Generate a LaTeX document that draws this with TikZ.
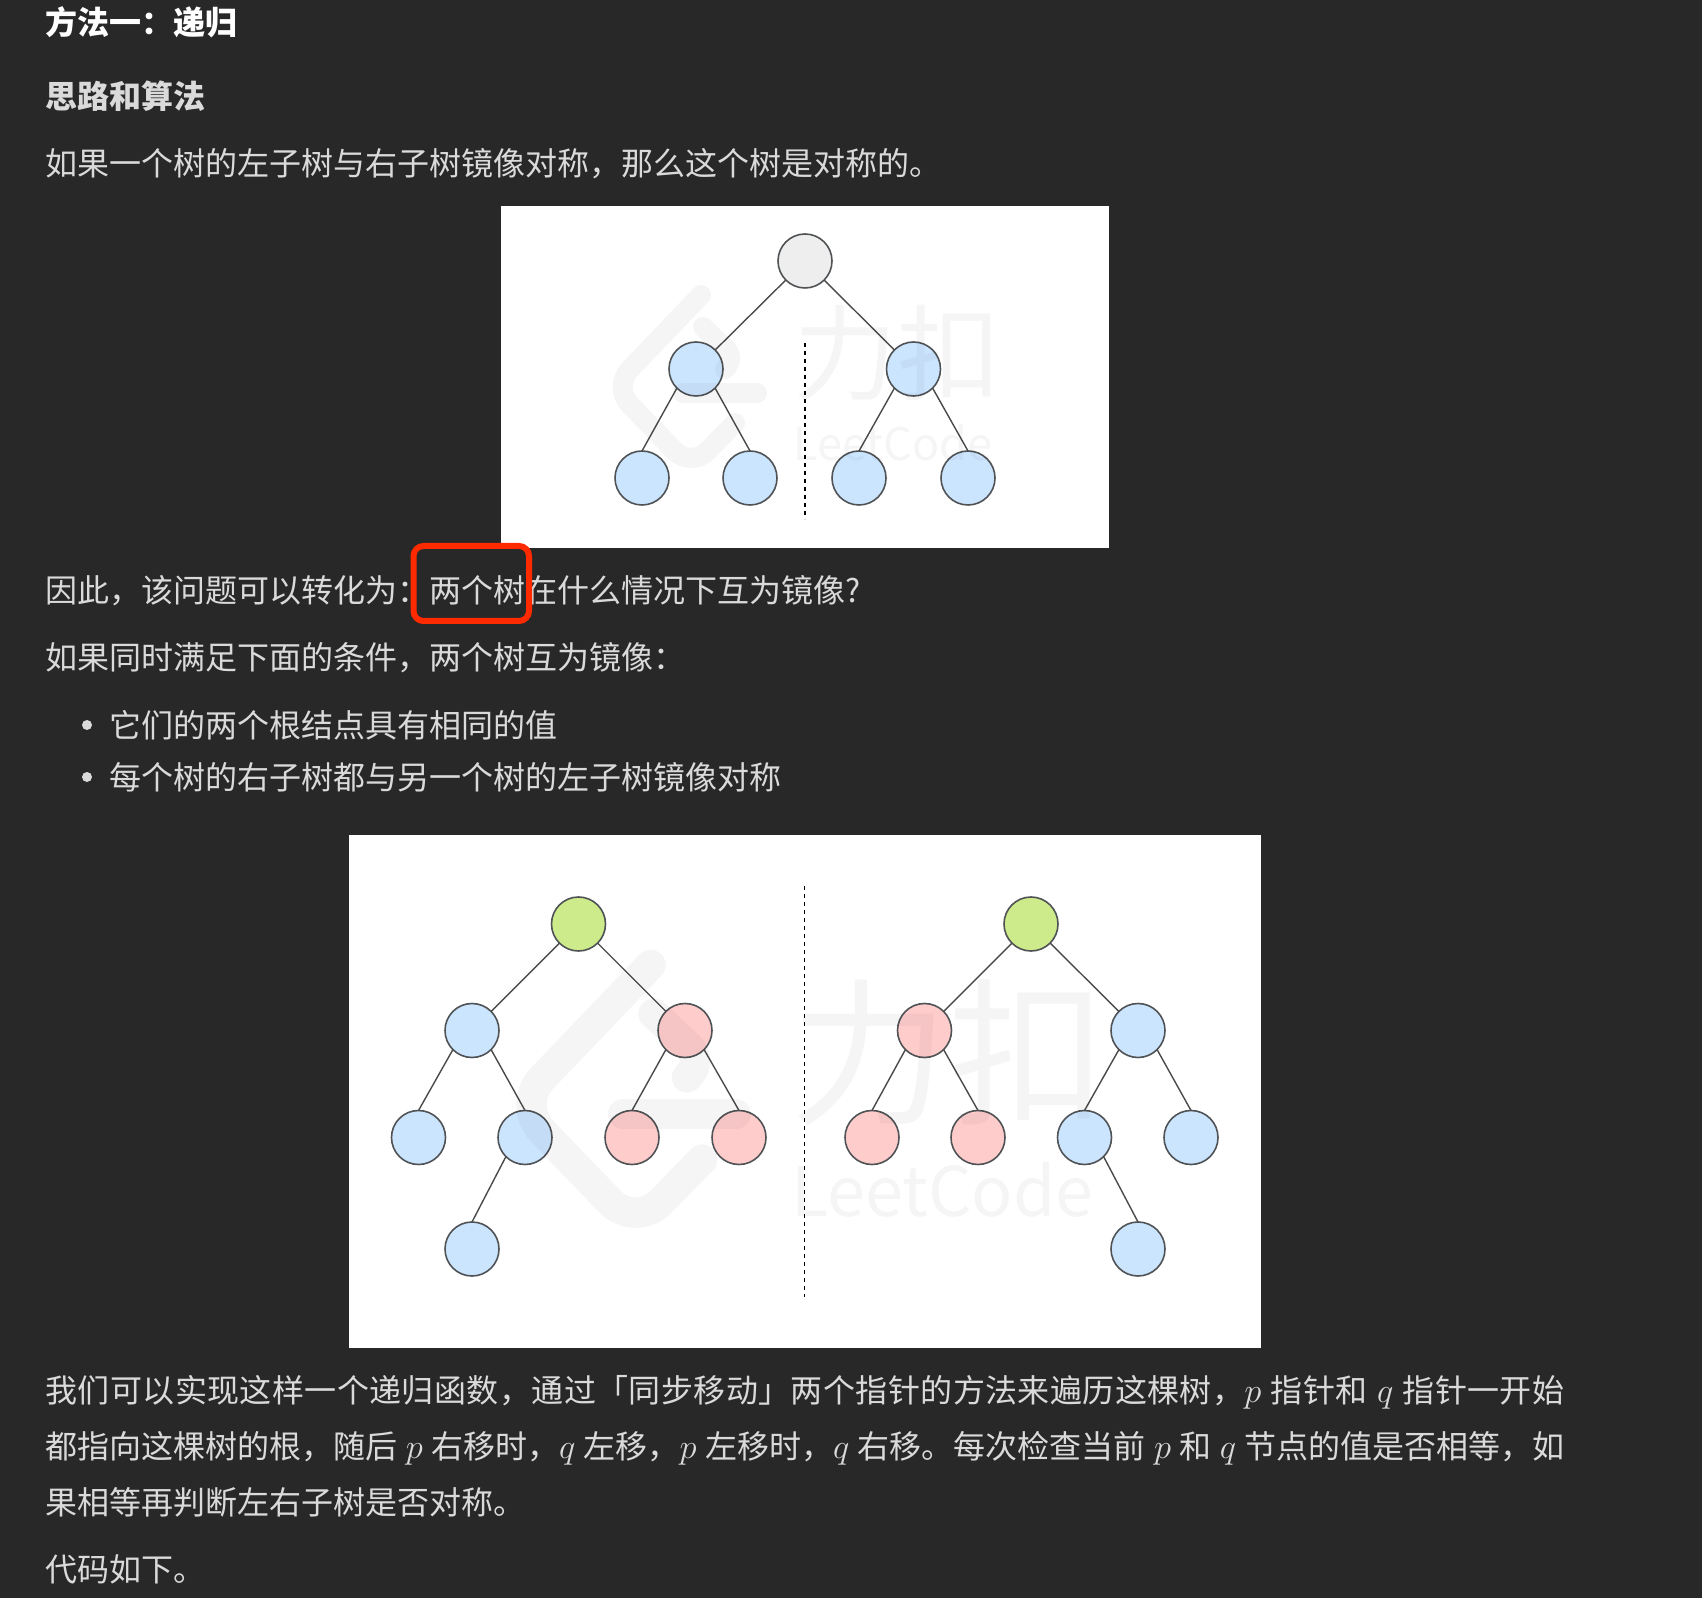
\documentclass[tikz,border=0pt]{standalone}
\usepackage{fontspec}
\newfontfamily\cjk{Noto Sans CJK SC}
\definecolor{pagebg}{HTML}{282828}
\definecolor{bodytext}{HTML}{DADADA}
\definecolor{nodeline}{HTML}{505356}
\definecolor{edgeline}{HTML}{4A4A4A}
\definecolor{bluefill}{HTML}{CCE5FF}
\definecolor{pinkfill}{HTML}{FFCCCC}
\definecolor{greenfill}{HTML}{CDEB8B}
\definecolor{grayfill}{HTML}{EEEEEE}
\definecolor{redmark}{HTML}{FF2A00}
\newcommand{\mvar}[1]{{\fontsize{17.5}{16}\selectfont$#1$}}
\newcommand{\fitline}[1]{\hbox to 759.5pt{#1}}
\tikzset{
  tnode/.style={circle, draw=nodeline, line width=0.8pt, minimum size=27pt, inner sep=0pt, outer sep=0pt},
  edge/.style={draw=edgeline, line width=0.7pt},
  mirror/.style={draw=black, line width=0.8pt, dash pattern=on 2.2pt off 1.8pt},
  para/.style={anchor=west, inner sep=0pt, text=bodytext, text height=12.2pt, text depth=0pt,
    font=\cjk\fontsize{16}{16}\selectfont},
  wline/.style={draw=black, draw opacity=0.04, line width=10pt, line cap=round, line join=round},
  wtext/.style={text=black, text opacity=0.04, inner sep=0pt, transform shape}
}
\begin{document}
\begin{tikzpicture}[x=0.5pt, y=-0.5pt]
\useasboundingbox (0, 0) rectangle (1702, 1598);
\fill[pagebg] (0, 0) rectangle (1702, 1598);
% text above the first picture
\node[para, text=white, font=\cjk\bfseries\fontsize{16}{16}\selectfont] (title) at (45, 22) {方法一：递归};
\node[para, text=bodytext, font=\cjk\bfseries\fontsize{16}{16}\selectfont] (sub) at (45, 96) {思路和算法};
\node[para] (line1) at (45, 163) {如果一个树的左子树与右子树镜像对称，那么这个树是对称的。};
% first picture
\fill[white] (501, 206) rectangle (1109, 548);
\node[tnode, fill=grayfill] (r) at (805, 261) {};
\foreach \x/\i in {696/a, 913.5/b}
  {\node[tnode, fill=bluefill] (\i) at (\x, 369) {};
   \draw[edge] (r) -- (\i);};
\foreach \x/\i in {642/c, 750/d, 859/e, 968/f}
  \node[tnode, fill=bluefill] (\i) at (\x, 478) {};
\foreach \p/\l/\m in {a/c/d, b/e/f}
  {\draw[edge] (\p.south west) -- (\l.north);
   \draw[edge] (\p.south east) -- (\m.north);};
\coordinate (m1) at (805, 343);
\coordinate (m2) at (805, 519);
\draw[mirror] (m1) -- (m2);
% text between the pictures
\node[para] (line2) at (45, 590) {因此，该问题可以转化为：两个树在什么情况下互为镜像?};
\draw[redmark, line width=3pt, rounded corners=5pt] (413.5, 546) rectangle (529, 621);
\node[para] (line3) at (45, 657) {如果同时满足下面的条件，两个树互为镜像：};
\foreach \y/\i/\t in {725/1/它们的两个根结点具有相同的值, 777/2/每个树的右子树都与另一个树的左子树镜像对称}
  {\node[circle, fill=bodytext, minimum size=5pt, inner sep=0pt] (dot\i) at (87, \y) {};
   \node[para] (item\i) at (109, \y) {\t};};
% second picture
\fill[white] (349, 835) rectangle (1261, 1348);
\foreach \x/\i in {578.5/L, 1031/R}
  \node[tnode, fill=greenfill] (\i) at (\x, 924) {};
\foreach \x/\i/\c in {472/La/bluefill, 685/Lb/pinkfill, 924.5/Ra/pinkfill, 1138/Rb/bluefill}
  \node[tnode, fill=\c] (\i) at (\x, 1030.5) {};
\foreach \x/\i/\c in {418.5/Lc/bluefill, 525/Ld/bluefill, 632/Le/pinkfill, 739/Lf/pinkfill,
                      872/Rc/pinkfill, 978/Rd/pinkfill, 1084.5/Re/bluefill, 1191/Rf/bluefill}
  \node[tnode, fill=\c] (\i) at (\x, 1137.5) {};
\foreach \x/\i in {472/Lg, 1138/Rg}
  \node[tnode, fill=bluefill] (\i) at (\x, 1249) {};
\foreach \i in {L, R}
  {\draw[edge] (\i) -- (\i a);
   \draw[edge] (\i) -- (\i b);
   \foreach \p/\l/\m in {a/c/d, b/e/f}
     {\draw[edge] (\i\p.south west) -- (\i\l.north);
      \draw[edge] (\i\p.south east) -- (\i\m.north);};};
\draw[edge] (Ld.south west) -- (Lg.north);
\draw[edge] (Re.south east) -- (Rg.north);
\coordinate (m3) at (804.5, 886);
\coordinate (m4) at (804.5, 1297);
\draw[mirror] (m3) -- (m4);
% watermarks
\foreach \x/\y/\s/\i in {625/295/1/u, 535/965/1.52/v}
  {\begin{scope}[shift={(\x, \y)}, scale=\s]
    \draw[wline, line width=10pt*\s, rounded corners=12pt*\s] (76, 0) -- (-12, 92) -- (66, 173) -- (110, 128);
    \draw[wline, line width=10pt*\s] (58, 98) -- (132, 98);
    \draw[wline, line width=10pt*\s, rounded corners=6pt*\s] (78, 32) -- (110, 62) -- (100, 74);
    \node[wtext, font=\cjk\fontsize{52}{52}\selectfont] (wa\i) at (272, 58) {力扣};
    \node[wtext, font=\cjk\fontsize{22.5}{22.5}\selectfont] (wb\i) at (268, 148) {LeetCode};
  \end{scope}}
% text below the second picture
\node[para] (line4) at (45, 1390) {\fitline{\addfontfeature{LetterSpace=1.3}我们可以实现这样一个递归函数，通过「同步移动」两个指针的方法来遍历这棵树，\mvar{p} 指针和 \mvar{q} 指针一开始}};
\node[para] (line5) at (45, 1446) {\fitline{都指向这棵树的根，随后 \mvar{p} 右移时，\mvar{q} 左移，\mvar{p} 左移时，\mvar{q} 右移。每次检查当前 \mvar{p} 和 \mvar{q} 节点的值是否相等，如}};
\node[para] (line6) at (45, 1502) {果相等再判断左右子树是否对称。};
\node[para] (line7) at (45, 1569) {代码如下。};
\end{tikzpicture}
\end{document}
